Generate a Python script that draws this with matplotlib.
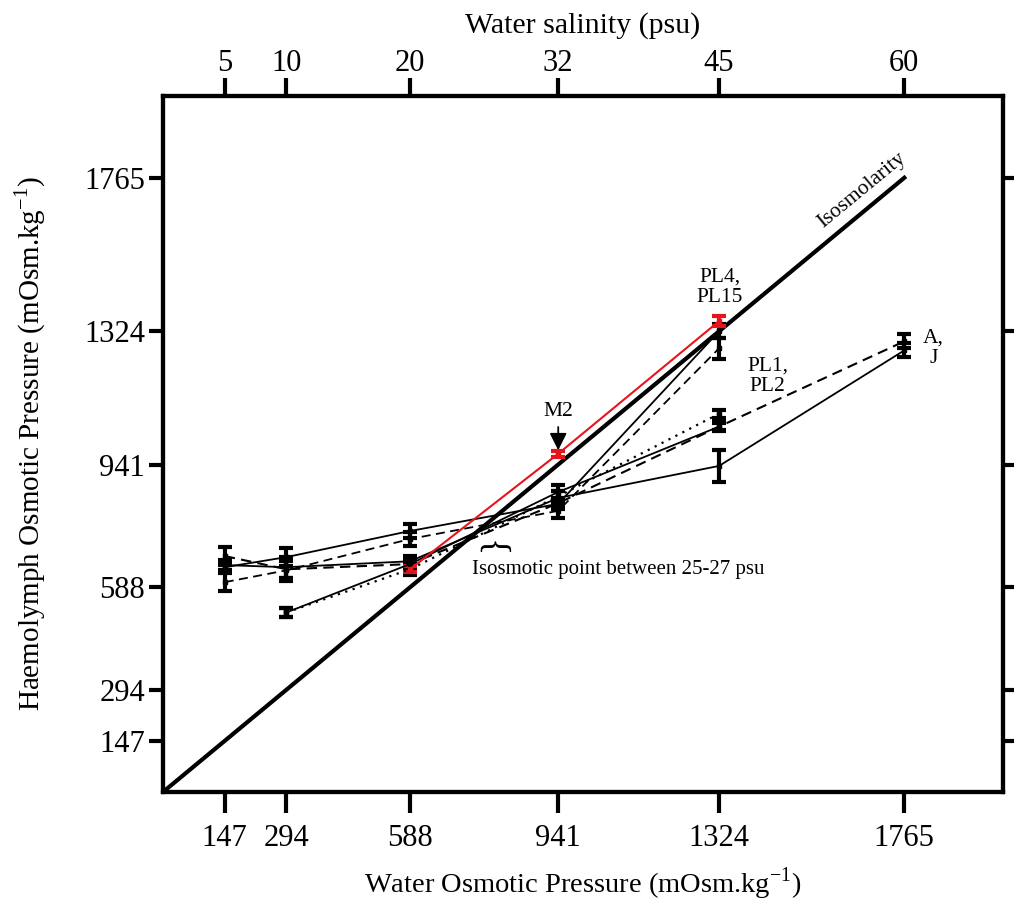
import matplotlib
matplotlib.use("Agg")
import matplotlib.pyplot as plt

plt.rcParams['font.family'] = ['Liberation Serif', 'DejaVu Serif']
plt.rcParams['mathtext.fontset'] = 'custom'
plt.rcParams['mathtext.rm'] = 'Liberation Serif'

# Water osmotic pressure (mOsm/kg) and matching salinity (psu)
osm_ticks = [147, 294, 588, 941, 1324, 1765]
psu_labels = ['5', '10', '20', '32', '45', '60']

# Series (haemolymph osmotic pressure, mOsm/kg)
s1_x = [147, 294, 588, 941, 1324]
s1_y = [646, 675, 750, 828, 1324]
s1_e = [15, 25, 20, 15, 20]

s2_x = [147, 294, 588, 941, 1324]
s2_y = [603, 637, 727, 808, 1275]
s2_e = [25, 30, 20, 20, 30]

j_x = [147, 294, 588, 941, 1324, 1765]
j_y = [652, 646, 663, 845, 937, 1269]
j_e = [15, 30, 15, 20, 46, 20]

a_x = [147, 294, 588, 941, 1324, 1765]
a_y = [678, 640, 655, 830, 1050, 1295]
a_e = [25, 25, 15, 15, 12, 20]

s5_x = [294, 588, 941, 1324]
s5_y = [516, 655, 862, 1050]
s5_e = [12, 15, 20, 10]

s6_x = [294, 588, 941, 1324]
s6_y = [516, 640, 850, 1087]
s6_e = [12, 15, 15, 12]

red_x = [588, 941, 1324]
red_y = [640, 972, 1353]
red_e = [8, 8, 15]

iso_x = [0, 1765]
iso_y = [0, 1765]

fig = plt.figure(figsize=(10.14, 9.05), dpi=100)
ax = fig.add_axes([163/1014, 113/905, 840/1014, 696/905])
ax.set_xlim(0, 2000)
ax.set_ylim(0, 2000)

ax.plot(iso_x, iso_y, color='black', lw=3, zorder=3)

def series(x, y, e, ls, color='black', lw=1.3):
    ax.errorbar(x, y, yerr=e, color=color, ls=ls, lw=lw, elinewidth=3,
                capsize=5, capthick=3, marker='s', ms=3.5, zorder=4)

series(s1_x, s1_y, s1_e, '-')
series(s2_x, s2_y, s2_e, (0, (5, 3)))
series(j_x, j_y, j_e, '-')
series(a_x, a_y, a_e, (0, (5, 3)), lw=1.5)
series(s5_x, s5_y, s5_e, '-')
series(s6_x, s6_y, s6_e, (0, (1, 2.5)), lw=1.6)
series(red_x, red_y, red_e, '-', color='#e8141c', lw=1.5)

for s in ax.spines.values():
    s.set_linewidth(3)

ax.set_xticks(osm_ticks)
ax.set_xticklabels([str(v) for v in osm_ticks])
ax.set_yticks(osm_ticks)
ax.set_yticklabels([str(v) for v in osm_ticks])
ax.tick_params(axis='x', direction='out', length=15, width=3, labelsize=22, pad=8)
ax.tick_params(axis='y', direction='out', length=10, width=3, labelsize=22, pad=3,
               right=True, labelright=False)

ax.set_xlabel('Water Osmotic Pressure (mOsm.kg$^{-1}$)', fontsize=20.5, labelpad=9)
ax.set_ylabel('Haemolymph Osmotic Pressure (mOsm.kg$^{-1}$)', fontsize=21, labelpad=26)

top = ax.twiny()
top.set_xlim(ax.get_xlim())
top.set_xticks(osm_ticks)
top.set_xticklabels(psu_labels)
top.tick_params(axis='x', direction='out', length=13, width=3, labelsize=22, pad=0)
top.set_xlabel('Water salinity (psu)', fontsize=21.5, labelpad=12)
for s in top.spines.values():
    s.set_linewidth(3)

ax.text(1664, 1730, 'Isosmolarity', rotation=39.5, fontsize=15.5,
        ha='center', va='center', rotation_mode='anchor')
ax.text(1326, 1450, 'PL4,\nPL15', fontsize=15.5, ha='center', va='center',
        linespacing=1.1)
ax.text(1440, 1195, 'PL1,\nPL2', fontsize=15.5, ha='center', va='center',
        linespacing=1.1)
ax.text(1835, 1275, 'A,\nJ', fontsize=15.5, ha='center', va='center',
        linespacing=1.1)
ax.annotate('M2', xy=(941, 982), xytext=(941, 1092), fontsize=15.5,
            ha='center', va='center',
            arrowprops=dict(arrowstyle='-|>', color='black', lw=1.3,
                            mutation_scale=26, shrinkA=2, shrinkB=0))
ax.text(780, 700, '{', rotation=-90, fontsize=26, ha='center', va='center')
ax.text(735, 640, 'Isosmotic point between 25-27 psu', fontsize=15,
        ha='left', va='center')

fig.savefig('out.png', dpi=100)
